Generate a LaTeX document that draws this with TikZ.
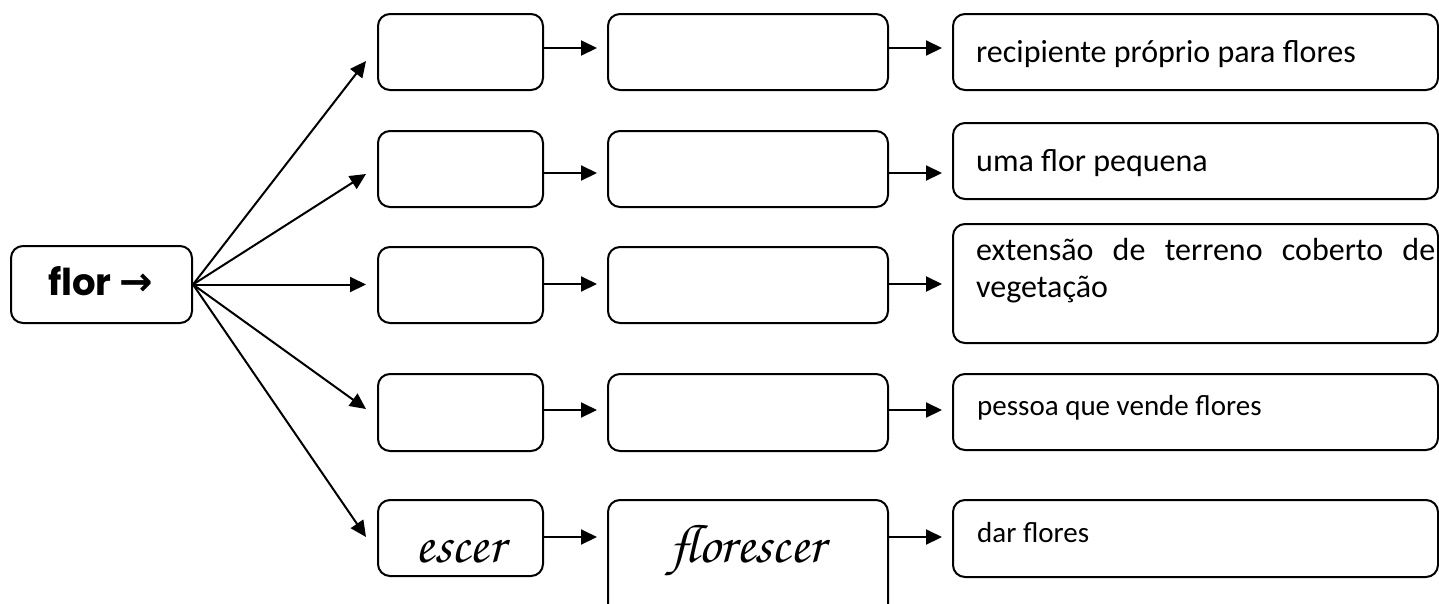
\documentclass[tikz,border=0pt]{standalone}
\usepackage[T1,TU]{fontenc}
\usepackage{fontspec}
\usetikzlibrary{arrows.meta,calc}
\newfontfamily\calib{Carlito}
\newfontfamily\popb{Poppins}
\newfontfamily\dejab{DejaVu Sans}
\IfFileExists{t1qzc.fd}{\newcommand\cursfam{qzc}}{\IfFileExists{t1pzc.fd}{\newcommand\cursfam{pzc}}{\newcommand\cursfam{}}}
\newcommand\cursiv[1]{\ifx\cursfam\empty\textit{#1}\else{\fontencoding{T1}\fontfamily{\cursfam}\fontseries{m}\fontshape{it}\selectfont #1}\fi}
\begin{document}
\begin{tikzpicture}[x=1pt,y=-1pt,
  box/.style={draw,line width=2pt,rounded corners=12pt,inner sep=0pt},
  arr/.style={line width=2pt,-{Triangle[length=16pt,width=15pt]}},
  lab/.style={anchor=base west,inner sep=0pt,font=\calib\fontsize{32}{36}\selectfont},
  labs/.style={anchor=base west,inner sep=0pt,font=\calib\fontsize{29}{34}\selectfont},
  curs/.style={anchor=base,inner sep=0pt,font=\fontsize{54}{60}\selectfont}]
\clip (0,0) rectangle (1439,603);
% left box
\node[box,minimum width=181pt,minimum height=77pt] (flor) at (101.5,284.5) {};
\node[anchor=base,inner sep=0pt] (flortxt) at (100.5,295) {\popb\bfseries\fontsize{37}{42}\selectfont flor {\dejab\bfseries\fontsize{40}{44}\selectfont →}};
% column 1
\node[box,minimum width=165pt,minimum height=76pt] (a1) at (460.5,52) {};
\node[box,minimum width=165pt,minimum height=76pt] (a2) at (460.5,169) {};
\node[box,minimum width=165pt,minimum height=76pt] (a3) at (460.5,285) {};
\node[box,minimum width=165pt,minimum height=77pt] (a4) at (460.5,412.5) {};
\node[box,minimum width=165pt,minimum height=76pt] (a5) at (460.5,538) {};
% column 2
\node[box,minimum width=280pt,minimum height=76pt] (b1) at (748,52) {};
\node[box,minimum width=280pt,minimum height=76pt] (b2) at (748,169) {};
\node[box,minimum width=280pt,minimum height=76pt] (b3) at (748,285) {};
\node[box,minimum width=280pt,minimum height=77pt] (b4) at (748,412.5) {};
\node[box,minimum width=280pt,minimum height=140pt] (b5) at (748,570) {};
% column 3
\node[box,minimum width=485pt,minimum height=76pt] (c1) at (1195.5,52) {};
\node[box,minimum width=485pt,minimum height=76pt] (c2) at (1195.5,161) {};
\node[box,minimum width=485pt,minimum height=119pt] (c3) at (1195.5,283.5) {};
\node[box,minimum width=485pt,minimum height=76pt] (c4) at (1195.5,412) {};
\node[box,minimum width=485pt,minimum height=77pt] (c5) at (1195.5,538.5) {};
% texts
\node[lab] (l1) at (976,62) {recipiente próprio para flores};
\node[lab] (l2) at (976,171) {uma flor pequena};
\node[lab] (l3) at (976,260) {\parbox[t]{459pt}{\fontsize{32}{37}\selectfont extensão de terreno coberto de\linebreak vegetação}};
\node[labs] (l4) at (977,415) {pessoa que vende flores};
\node[labs] (l5) at (977,542) {dar flores};
\node[curs] (w1) at (460,562) {\cursiv{escer}};
\node[curs] (w2) at (747.5,562) {\cursiv{florescer}};
% fan arrows
\coordinate (t1) at (366,61);
\coordinate (t2) at (366,174);
\coordinate (t3) at (366,284.5);
\coordinate (t4) at (366,409);
\coordinate (t5) at (366,537);
\foreach \t in {t1,t2,t3,t4,t5}{\draw[arr] (flor.east) -- (\t);}
% row arrows
\coordinate (h1) at (0,48);
\coordinate (h2) at (0,173);
\coordinate (h3) at (0,284);
\coordinate (h4) at (0,410);
\coordinate (h5) at (0,537);
\foreach \i in {1,...,5}{
  \draw[arr] (a\i.east |- h\i) -- ($(b\i.west |- h\i)+(-10,0)$);
  \draw[arr] (b\i.east |- h\i) -- ($(c\i.west |- h\i)+(-10,0)$);
}
\end{tikzpicture}
\end{document}
